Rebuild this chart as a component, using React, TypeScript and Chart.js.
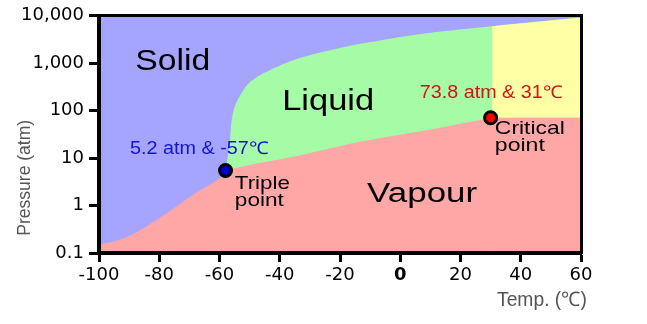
import React, { useEffect, useRef } from "react";
import { Chart, registerables } from "chart.js";

Chart.register(...registerables);

// ---- axis ranges & ticks ----
const xMin = -100;
const xMax = 60;
const xStep = 20;
const yMin = 0.1;
const yMax = 10000;
const yTicks = [0.1, 1, 10, 100, 1000, 10000];
const yTickLabels = ["0.1", "1", "10", "100", "1,000", "10,000"];

// ---- phase boundaries (T in degC, P in atm) ----
// solid / vapour (sublimation) curve
const sublimT = [-100, -90.6, -79.5, -68.4, -59.6, -57.9];
const sublimP = [0.147, 0.22, 0.57, 1.75, 3.9, 5.5];
// liquid / vapour curve (continues from the triple point)
const vapT = [-34.6, -12.5, 9.6, 30.5];
const vapP = [11, 22.6, 39.8, 71];
// solid / liquid (melting) curve
const meltT = [-57.9, -56.6, -55.4, -52.4, -49.1, -43.5, -32.5, -21.4, -10.3, 6.3, 30.5, 60];
const meltP = [5.5, 22, 96, 250, 436, 706, 1334, 2000, 2760, 4100, 6050, 9200];
// supercritical region top edge
const superT = [30.5, 60];
const superP = [6050, 9200];
// vapour top edge to the right of the critical point
const flatT = [29.5, 60];
const flatP = [71, 71];
// special points
const tripleT = -58;
const tripleP = 5.5;
const criticalT = 30;
const criticalP = 71;

const BLUE = "rgb(165,165,255)";
const GREEN = "rgb(166,251,166)";
const YELLOW = "rgb(255,255,166)";
const RED = "rgb(255,166,166)";

const LABEL_FONT = '"Liberation Sans", Arial, sans-serif';
const TICK_FONT = '"DejaVu Sans", sans-serif';

const pts = (xs: number[], ys: number[]) => xs.map((x, i) => ({ x, y: ys[i] }));

// annotation texts, anchored in data coordinates (left, baseline)
const notes = [
  { lines: ["Solid"], t: -88, p: 724, size: 30, widths: [75], color: "#000", lh: 0 },
  { lines: ["Liquid"], t: -39.2, p: 101, size: 29, widths: [92], color: "#000", lh: 0 },
  { lines: ["Vapour"], t: -11, p: 1.19, size: 27, widths: [110], color: "#000", lh: 0 },
  { lines: ["Triple", "point"], t: -54.9, p: 2.26, size: 18.5, widths: [55, 49], color: "#000", lh: 17 },
  { lines: ["Critical", "point"], t: 31.4, p: 32, size: 18.5, widths: [70, 50], color: "#000", lh: 17 },
  { lines: ["5.2 atm & -57℃"], t: -89.7, p: 12.3, size: 17.5, widths: [138], color: "#1414d2", lh: 0 },
  { lines: ["73.8 atm & 31℃"], t: 6.5, p: 183, size: 17.5, widths: [142], color: "#d21414", lh: 0 },
];

const xTitle = "Temp. (℃)";
const yTitle = "Pressure (atm)";

function drawFitted(ctx: CanvasRenderingContext2D, text: string, width: number) {
  const w = ctx.measureText(text).width || 1;
  ctx.scale(width / w, 1);
  ctx.fillText(text, 0, 0);
}

const textPlugin = {
  id: "phaseText",
  afterDatasetsDraw(chart: any) {
    const ctx: CanvasRenderingContext2D = chart.ctx;
    const xs = chart.scales.x;
    const ys = chart.scales.y;
    notes.forEach((n) => {
      const px = xs.getPixelForValue(n.t);
      const py = ys.getPixelForValue(n.p);
      n.lines.forEach((line, i) => {
        ctx.save();
        ctx.font = `${n.size}px ${LABEL_FONT}`;
        ctx.fillStyle = n.color;
        ctx.textAlign = "left";
        ctx.textBaseline = "alphabetic";
        ctx.translate(px, py + i * n.lh);
        drawFitted(ctx, line, n.widths[i]);
        ctx.restore();
      });
    });
  },
  afterDraw(chart: any) {
    const ctx: CanvasRenderingContext2D = chart.ctx;
    const area = chart.chartArea;
    // y title
    ctx.save();
    ctx.font = `17.5px ${LABEL_FONT}`;
    ctx.fillStyle = "#555";
    ctx.textAlign = "center";
    ctx.textBaseline = "middle";
    ctx.translate(25, area.top + 162);
    ctx.rotate(-Math.PI / 2);
    const w1 = ctx.measureText(yTitle).width || 1;
    ctx.scale(116 / w1, 1);
    ctx.fillText(yTitle, 0, 0);
    ctx.restore();
    // x title
    ctx.save();
    ctx.font = `20px ${LABEL_FONT}`;
    ctx.fillStyle = "#555";
    ctx.textAlign = "left";
    ctx.textBaseline = "alphabetic";
    ctx.translate(area.right - 84, area.bottom + 53);
    drawFitted(ctx, xTitle, 90);
    ctx.restore();
  },
};

const area = (data: any[], color: string, order: number, tension: number, label: string, fill: any = "start") => ({
  label,
  data,
  backgroundColor: color,
  borderColor: "rgba(0,0,0,0)",
  borderWidth: 0,
  pointRadius: 0,
  pointHoverRadius: 0,
  fill,
  cubicInterpolationMode: "default",
  tension,
  order,
});

export default function App() {
  const ref = useRef<HTMLCanvasElement>(null);

  useEffect(() => {
    if (!ref.current) return;
    const chart = new Chart(ref.current, {
      type: "line",
      data: {
        datasets: [
          area(pts([xMin, xMax], [yMax, yMax]), BLUE, 7, 0, "Solid"),
          area(pts(meltT, meltP), GREEN, 6, 0.4, "Liquid"),
          area(pts(superT, superP), YELLOW, 5, 0, "Supercritical", { value: criticalP }),
          area(pts([...sublimT, ...vapT], [...sublimP, ...vapP]), RED, 4, 0.35, "Vapour"),
          area(pts(flatT, flatP), RED, 3, 0, "Vapour (T > Tc)"),
          {
            label: "Triple point",
            data: [{ x: tripleT, y: tripleP }],
            showLine: false,
            pointRadius: 6,
            pointBorderWidth: 3,
            pointBackgroundColor: "#0000cc",
            pointBorderColor: "#000",
            order: 0,
          } as any,
          {
            label: "Critical point",
            data: [{ x: criticalT, y: criticalP }],
            showLine: false,
            pointRadius: 6,
            pointBorderWidth: 3,
            pointBackgroundColor: "#ff0000",
            pointBorderColor: "#000",
            order: 0,
          } as any,
        ],
      },
      options: {
        responsive: false,
        animation: false,
        devicePixelRatio: 1,
        layout: { padding: { top: 13, right: 66, bottom: 0, left: 0 } },
        plugins: {
          legend: { display: false },
          tooltip: { enabled: false },
          title: { display: false },
        },
        events: [],
        scales: {
          x: {
            type: "linear",
            position: "bottom",
            min: xMin,
            max: xMax,
            ticks: {
              stepSize: xStep,
              autoSkip: false,
              maxRotation: 0,
              padding: 3,
              color: "#000",
              font: (c: any) => ({
                family: TICK_FONT,
                size: 18,
                weight: c.tick && c.tick.value === 0 ? "bold" : "normal",
              }),
              callback: (v: any) => String(v),
            },
            grid: {
              display: true,
              drawOnChartArea: false,
              drawTicks: true,
              tickLength: 9,
              tickWidth: 3,
              tickColor: "#000",
            },
            border: { display: true, width: 4, color: "#000", z: 1 },
            afterFit: (s: any) => {
              s.height = 71;
            },
          },
          y: {
            type: "logarithmic",
            position: "left",
            min: yMin,
            max: yMax,
            afterBuildTicks: (s: any) => {
              s.ticks = yTicks.map((v) => ({ value: v }));
            },
            ticks: {
              autoSkip: false,
              padding: 5,
              color: "#000",
              font: { family: TICK_FONT, size: 18 },
              callback: (_v: any, i: number) => yTickLabels[i],
            },
            grid: {
              display: true,
              drawOnChartArea: false,
              drawTicks: true,
              tickLength: 10,
              tickWidth: 3,
              tickColor: "#000",
            },
            border: { display: true, width: 4, color: "#000", z: 1 },
            afterFit: (s: any) => {
              s.width = 99;
            },
          },
          x2: {
            type: "linear",
            position: "top",
            min: xMin,
            max: xMax,
            ticks: { display: false },
            grid: { display: true, drawOnChartArea: false, drawTicks: false },
            border: { display: true, width: 3, color: "#000", z: 1 },
            afterFit: (s: any) => {
              s.height = 0;
            },
          },
          y2: {
            type: "linear",
            position: "right",
            min: 0,
            max: 1,
            ticks: { display: false },
            grid: { display: true, drawOnChartArea: false, drawTicks: false },
            border: { display: true, width: 3, color: "#000", z: 1 },
            afterFit: (s: any) => {
              s.width = 0;
            },
          },
        },
      } as any,
      plugins: [textPlugin],
    });
    return () => chart.destroy();
  }, []);

  return (
    <div style={{ position: "fixed", left: 0, top: 0, width: 647, height: 324, background: "#fff" }}>
      <canvas ref={ref} width={647} height={324} style={{ display: "block" }} />
    </div>
  );
}
